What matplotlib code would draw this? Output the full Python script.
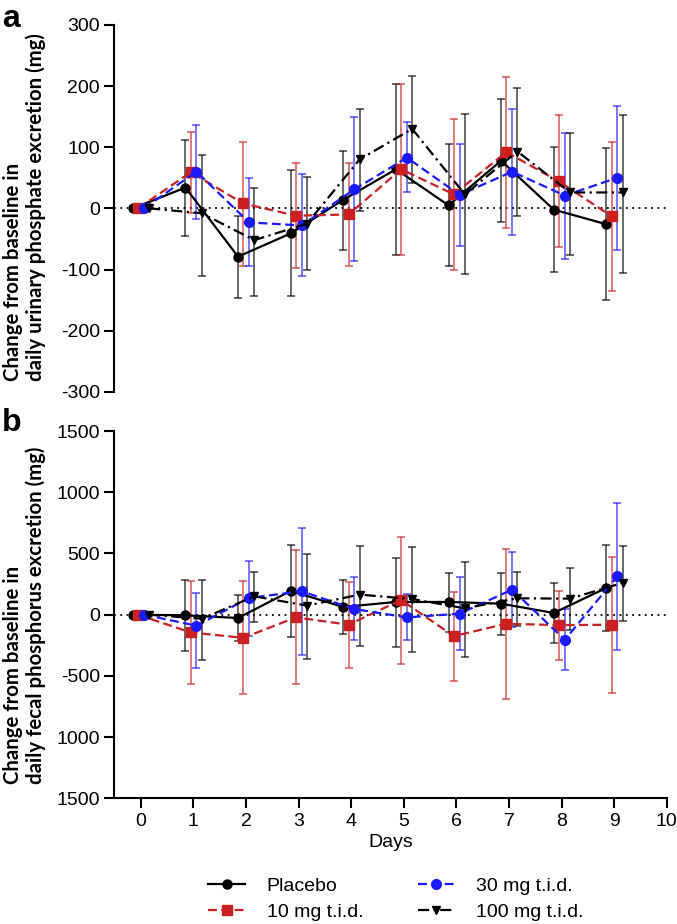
import numpy as np
import matplotlib.pyplot as plt
from matplotlib.lines import Line2D

plt.rcParams['font.family'] = ['Liberation Sans', 'DejaVu Sans']
plt.rcParams['axes.unicode_minus'] = False

days = np.arange(10)
groups = ['Placebo', '10 mg t.i.d.', '30 mg t.i.d.', '100 mg t.i.d.']

# panel a: urinary phosphate (mean, upper and lower error bar ends)
uri_placebo = [0, 34, -79, -41, 14, 64, 5, 78, -2, -26]
uri_placebo_hi = [0, 112, -12, 63, 94, 203, 105, 179, 100, 99]
uri_placebo_lo = [0, -45, -147, -143, -68, -77, -94, -23, -104, -150]
uri_10 = [0, 59, 8, -12, -10, 64, 23, 92, 44, -13]
uri_10_hi = [0, 125, 109, 75, 75, 204, 146, 215, 152, 109]
uri_10_lo = [0, -7, -94, -98, -94, -77, -101, -32, -64, -135]
uri_30 = [0, 60, -23, -28, 31, 83, 22, 60, 21, 50]
uri_30_hi = [0, 136, 50, 56, 149, 141, 105, 163, 124, 167]
uri_30_lo = [0, -18, -95, -111, -86, 26, -62, -43, -83, -68]
uri_100 = [0, -8, -52, -25, 80, 130, 23, 93, 26, 26]
uri_100_hi = [0, 87, 34, 51, 162, 216, 154, 197, 124, 153]
uri_100_lo = [0, -110, -143, -100, -4, 42, -107, -12, -77, -105]

# panel b: fecal phosphorus
fec_placebo = [0, -5, -27, 194, 63, 104, 104, 90, 14, 219]
fec_placebo_hi = [0, 287, 164, 568, 287, 462, 339, 339, 262, 571]
fec_placebo_lo = [0, -295, -213, -186, -158, -260, -139, -167, -235, -134]
fec_10 = [0, -145, -189, -22, -82, 120, -175, -74, -85, -82]
fec_10_hi = [0, 273, 279, 525, 265, 637, 186, 536, 197, 475]
fec_10_lo = [0, -563, -650, -568, -432, -402, -538, -686, -372, -637]
fec_30 = [0, -90, 137, 191, 46, -22, 8, 205, -205, 314]
fec_30_hi = [0, 178, 437, 710, 306, 169, 306, 508, 46, 915]
fec_30_lo = [0, -437, -172, -328, -210, -210, -292, -98, -454, -290]
fec_100 = [0, -33, 150, 74, 164, 128, 52, 134, 131, 260]
fec_100_hi = [0, 281, 352, 495, 560, 552, 434, 352, 383, 560]
fec_100_lo = [0, -372, -63, -363, -254, -303, -342, -96, -126, -52]

uri = [(uri_placebo, uri_placebo_lo, uri_placebo_hi), (uri_10, uri_10_lo, uri_10_hi),
       (uri_30, uri_30_lo, uri_30_hi), (uri_100, uri_100_lo, uri_100_hi)]
fec = [(fec_placebo, fec_placebo_lo, fec_placebo_hi), (fec_10, fec_10_lo, fec_10_hi),
       (fec_30, fec_30_lo, fec_30_hi), (fec_100, fec_100_lo, fec_100_hi)]

colors = ['black', '#cc1f1f', '#1a1aff', 'black']
markers = ['o', 's', 'o', 'v']
styles = ['-', (0, (4, 2)), (0, (4, 2)), (0, (5, 2, 1, 2))]
offsets = [-0.15, -0.05, 0.06, 0.16]
msizes = [6.5, 7, 7, 6]

fig = plt.figure(figsize=(6.77, 9.24), dpi=100)
ax1 = fig.add_axes([0.169, 0.576, 0.816, 0.397])
ax2 = fig.add_axes([0.169, 0.136, 0.816, 0.3975])


def draw(ax, data):
    ax.axhline(0, color='black', ls=(0, (1, 2.5)), lw=1.3, zorder=1)
    for k, (m, lo, hi) in enumerate(data):
        m = np.array(m, float)
        x = days + offsets[k]
        yerr = [m - np.array(lo), np.array(hi) - m]
        ax.errorbar(x, m, yerr=yerr, fmt='none', ecolor=colors[k], elinewidth=1.1,
                    capsize=3, capthick=1.1, alpha=0.75, zorder=2)
        ax.plot(x, m, color=colors[k], ls=styles[k], lw=1.6, marker=markers[k],
                ms=msizes[k], zorder=3 + k)
    ax.set_xlim(-0.5, 10)
    for s in ['top', 'right']:
        ax.spines[s].set_visible(False)
    ax.spines['left'].set_linewidth(1.5)
    ax.spines['bottom'].set_linewidth(1.5)
    ax.tick_params(axis='both', length=7, width=1.5, labelsize=14)


draw(ax1, uri)
ax1.set_ylim(-300, 300)
ax1.set_yticks([300, 200, 100, 0, -100, -200, -300])
ax1.spines['bottom'].set_visible(False)
ax1.set_xticks([])

draw(ax2, fec)
ax2.set_ylim(-1500, 1500)
ax2.set_yticks([1500, 1000, 500, 0, -500, -1000, -1500])
ax2.set_yticklabels(['1500', '1000', '500', '0', '-500', '1000', '1500'])
ax2.set_xticks(range(11))
ax2.set_xlabel('Days', fontsize=14, labelpad=3)

lab_kw = dict(rotation=90, fontsize=14.7, fontweight='bold', family='Lato',
              ha='left', va='bottom', multialignment='left', linespacing=1.15)
fig.text(0.004, 1 - 381 / 924, 'Change from baseline in\ndaily urinary phosphate excretion (mg)', **lab_kw)
fig.text(0.004, 1 - 784 / 924, 'Change from baseline in\ndaily fecal phosphorus excretion (mg)', **lab_kw)

fig.text(0.003, 0.979, 'a', fontsize=23, fontweight='bold', va='center')
fig.text(0.003, 0.542, 'b', fontsize=23, fontweight='bold', va='center')

handles = [Line2D([], [], color=colors[k], ls=styles[k], lw=1.6, marker=markers[k], ms=msizes[k])
           for k in range(4)]
fig.legend(handles, groups, ncol=2, loc='center',
           bbox_to_anchor=(0.585, 0.027), frameon=False, fontsize=14, handlelength=1.9,
           columnspacing=2.8, handletextpad=1.1, labelspacing=0.45)

fig.savefig('out.png', dpi=100)
